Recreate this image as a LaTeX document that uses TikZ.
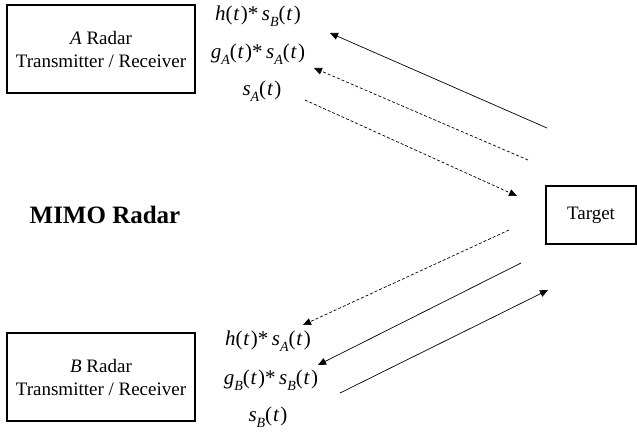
\documentclass[tikz,border=0pt]{standalone}
\usepackage{fontspec}
\setmainfont{Liberation Serif}
\usetikzlibrary{arrows.meta}
\newcommand{\sbs}[1]{\raisebox{-0.6ex}{\fontsize{14}{14}\selectfont\itshape #1}}
\newcommand{\itx}[1]{\textit{#1}}
\newcommand{\ofT}{(\kern0.8pt\itx{t}\kern1.2pt)}
\begin{document}
\begin{tikzpicture}[x=1pt,y=-1pt,
  box/.style={draw,line width=1.2pt,inner sep=0pt},
  lbl/.style={font=\fontsize{21}{24}\selectfont,inner sep=0pt},
  sig/.style={line width=0.7pt,-{Triangle[length=8pt,width=7pt]}},
  dsig/.style={sig,dashed,dash pattern=on 3pt off 2pt}]
\useasboundingbox (0,0) rectangle (637,432);
\node[box,minimum width=188pt,minimum height=88pt,align=center,font=\fontsize{19}{23}\selectfont] (A) at (101,49) {\itx{A} Radar\\Transmitter / Receiver};
\node[box,minimum width=188pt,minimum height=88pt,align=center,font=\fontsize{19}{23}\selectfont] (B) at (101,377) {\itx{B} Radar\\Transmitter / Receiver};
\node[box,minimum width=90pt,minimum height=58pt,font=\fontsize{19}{22}\selectfont] (T) at (591,215) {Target};
\node[font=\fontsize{25}{28}\selectfont\bfseries] (M) at (105,215) {MIMO Radar};
\node[lbl] (a1) at (258,16) {\itx{h}\ofT*\,\itx{s}\sbs{B}\ofT};
\node[lbl] (a2) at (258,54) {\itx{g}\sbs{A}\ofT*\,\itx{s}\sbs{A}\ofT};
\node[lbl] (a3) at (262,91) {\itx{s}\sbs{A}\ofT};
\node[lbl] (b1) at (268,341) {\itx{h}\ofT*\,\itx{s}\sbs{A}\ofT};
\node[lbl] (b2) at (271,380) {\itx{g}\sbs{B}\ofT*\,\itx{s}\sbs{B}\ofT};
\node[lbl] (b3) at (268,417) {\itx{s}\sbs{B}\ofT};
\coordinate (p1s) at (547,128); \coordinate (p1e) at (330,33);
\coordinate (p2s) at (528,160); \coordinate (p2e) at (314,68);
\coordinate (p3s) at (305,100); \coordinate (p3e) at (517,196);
\coordinate (p4s) at (509,230); \coordinate (p4e) at (303,325);
\coordinate (p5s) at (521,263); \coordinate (p5e) at (318,365);
\coordinate (p6s) at (340,393); \coordinate (p6e) at (548,290);
\draw[sig] (p1s) -- (p1e);
\draw[dsig] (p2s) -- (p2e);
\draw[dsig] (p3s) -- (p3e);
\draw[dsig] (p4s) -- (p4e);
\draw[sig] (p5s) -- (p5e);
\draw[sig] (p6s) -- (p6e);
\end{tikzpicture}
\end{document}
